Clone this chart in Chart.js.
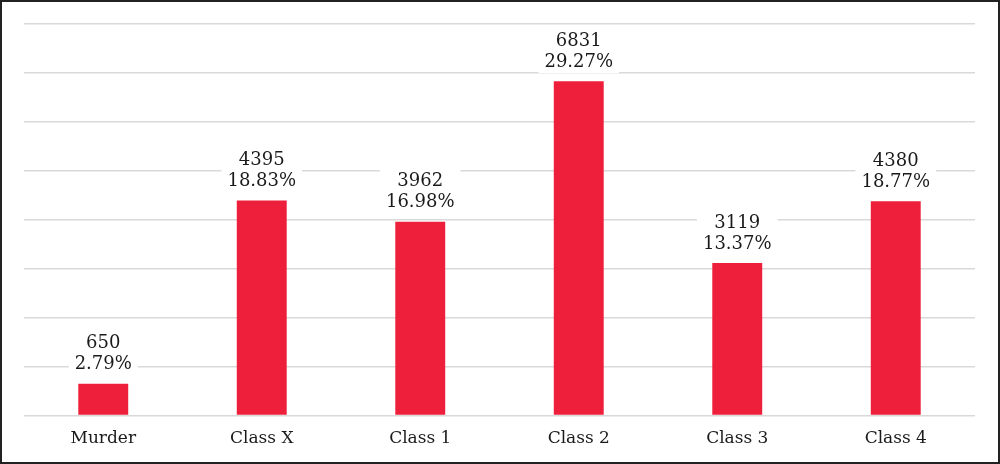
<!DOCTYPE html>
<html>
<head>
<meta charset="utf-8">
<script src="https://cdn.jsdelivr.net/npm/chart.js@4"></script>
<style>
  html, body { margin: 0; padding: 0; background: #fff; }
  #wrap { width: 1000px; height: 464px; box-sizing: border-box; border: 2px solid #222; }
</style>
</head>
<body>
<div id="wrap"><canvas id="myChart" width="996" height="460"></canvas></div>
<script>
const categories = ['Murder', 'Class X', 'Class 1', 'Class 2', 'Class 3', 'Class 4'];
const cases = [650, 4395, 3962, 6831, 3119, 4380];
const shares = ['2.79%', '18.83%', '16.98%', '29.27%', '13.37%', '18.77%'];

// two-line label (count + share) over each bar, on a white box that cuts the grid
const barLabels = {
  id: 'barLabels',
  afterDatasetsDraw(chart) {
    const ctx = chart.ctx;
    const meta = chart.getDatasetMeta(0);
    ctx.save();
    ctx.font = '18px "DejaVu Serif"';
    ctx.textAlign = 'center';
    ctx.textBaseline = 'middle';
    meta.data.forEach((bar, i) => {
      const l1 = String(cases[i]);
      const l2 = shares[i];
      const w = Math.max(ctx.measureText(l1).width, ctx.measureText(l2).width) + 12;
      const y2 = bar.y - 19;
      const y1 = y2 - 21;
      ctx.fillStyle = '#fff';
      ctx.fillRect(bar.x - w / 2, y1 - 12, w, 44);
      ctx.fillStyle = '#1a1a1a';
      ctx.fillText(l1, bar.x, y1);
      ctx.fillText(l2, bar.x, y2);
    });
    ctx.restore();
  }
};

const ctx = document.getElementById('myChart').getContext('2d');
const myChart = new Chart(ctx, {
  type: 'bar',
  data: {
    labels: categories,
    datasets: [{
      data: cases,
      backgroundColor: '#ee1f3b',
      categoryPercentage: 1,
      barPercentage: 0.315
    }]
  },
  options: {
    responsive: false,
    animation: false,
    layout: { padding: { left: 22, right: 23, top: 22, bottom: 8 } },
    plugins: { legend: { display: false }, tooltip: { enabled: false } },
    scales: {
      x: {
        grid: { display: false },
        border: { display: false },
        ticks: { padding: 5, color: '#1a1a1a', font: { family: 'DejaVu Serif', size: 17 } }
      },
      y: {
        min: 0,
        max: 8000,
        ticks: { stepSize: 1000, display: false },
        border: { display: false },
        grid: { color: '#d9d9d9', lineWidth: 1.5, drawTicks: false }
      }
    }
  },
  plugins: [barLabels]
});
</script>
</body>
</html>
